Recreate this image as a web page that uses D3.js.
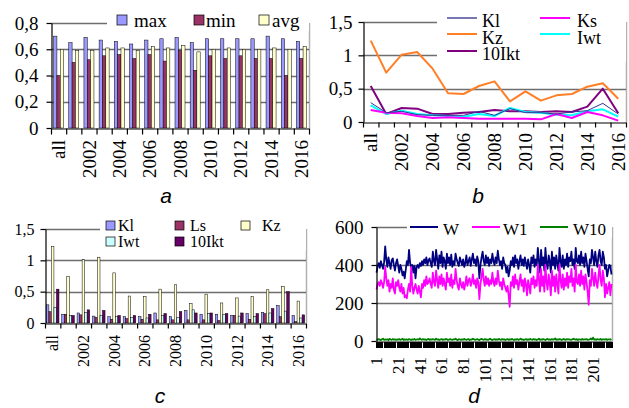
<!DOCTYPE html>
<html><head><meta charset="utf-8">
<script src="https://cdn.jsdelivr.net/npm/d3@7"></script>
<style>
body{margin:0;background:#fff}
svg{display:block}
</style>
</head><body>
<svg id="chart" width="629" height="408"></svg>
<script>
// ---------- DATA ----------
const years = ["all","2001","2002","2003","2004","2005","2006","2007","2008","2009","2010","2011","2012","2013","2014","2015","2016"];

// panel a
const aMax = [0.70,0.65,0.69,0.67,0.66,0.64,0.67,0.68,0.69,0.65,0.68,0.68,0.68,0.68,0.70,0.68,0.66];
const aMin = [0.40,0.50,0.52,0.55,0.56,0.53,0.56,0.51,0.59,0.44,0.55,0.53,0.55,0.53,0.53,0.40,0.53];
const aAvg = [0.60,0.59,0.59,0.61,0.61,0.59,0.62,0.61,0.63,0.58,0.60,0.61,0.60,0.60,0.61,0.60,0.62];
const aTicks = [0,0.2,0.4,0.6,0.8];

// panels b and c
const kl    = [0.29,0.14,0.16,0.11,0.10,0.10,0.10,0.16,0.10,0.20,0.14,0.14,0.12,0.15,0.17,0.28,0.12];
const ks    = [0.18,0.14,0.13,0.09,0.06,0.07,0.06,0.05,0.05,0.05,0.05,0.04,0.12,0.06,0.15,0.10,0.02];
const kz    = [1.22,0.74,1.01,1.05,0.80,0.43,0.42,0.54,0.61,0.31,0.46,0.32,0.40,0.42,0.53,0.58,0.35];
const iwt   = [0.25,0.12,0.17,0.12,0.10,0.09,0.08,0.12,0.09,0.21,0.15,0.14,0.11,0.10,0.16,0.19,0.08];
const ikt10 = [0.54,0.12,0.21,0.20,0.12,0.12,0.14,0.15,0.18,0.16,0.16,0.15,0.16,0.15,0.23,0.50,0.13];
const bTicks = [0,0.5,1,1.5];

// panel d
const w = [
360,395,410,385,420,400,380,415,498,430,
390,440,410,380,425,435,400,370,410,430,
395,360,400,380,345,365,330,375,420,400,
480,410,390,400,360,395,330,390,400,385,
410,395,420,400,430,410,440,400,425,435,
410,390,470,420,400,480,430,380,450,410,
470,390,440,420,380,460,410,440,400,455,
390,420,400,460,430,410,395,440,420,400,
430,390,410,450,400,420,440,395,430,460,
410,430,395,445,420,330,400,440,470,420,
400,450,410,440,395,430,410,460,420,400,
440,410,475,430,400,420,380,440,410,400,
360,390,340,370,420,400,440,390,450,410,
430,380,420,450,400,430,395,440,410,380,
430,400,360,440,410,450,390,430,400,490,
420,360,480,400,440,370,490,410,380,450,
420,360,470,400,440,380,450,410,370,490,
420,390,450,380,430,400,460,390,440,420,
470,400,430,380,490,420,410,450,400,470,
410,440,390,460,420,380,340,430,410,480,
440,400,470,420,390,450,480,420,400,470,
440,380,400,340,370,400,395,350];
const w1 = [
270,300,310,290,320,305,280,310,390,330,
290,320,260,300,280,330,270,250,310,290,
320,280,260,300,250,280,230,240,225,270,
300,260,390,290,250,280,300,270,250,290,
260,230,300,280,320,290,340,300,310,330,
300,280,360,310,290,370,320,280,340,300,
350,290,330,300,270,360,310,330,290,350,
280,320,300,380,320,290,270,330,300,280,
310,270,300,340,290,320,330,290,310,350,
300,320,280,330,310,220,300,340,380,320,
290,340,300,330,290,320,300,360,310,290,
330,300,370,320,290,310,270,330,300,280,
260,290,240,180,310,290,340,280,350,300,
320,270,310,350,290,320,260,330,300,240,
320,290,250,330,300,340,280,320,290,400,
320,260,380,290,340,260,400,310,270,350,
310,240,370,290,340,260,350,300,250,400,
320,280,350,270,330,290,360,280,340,310,
380,290,330,260,400,310,300,350,290,370,
300,340,270,350,310,260,190,320,290,380,
330,290,360,310,280,340,400,320,290,370,
330,230,300,250,280,310,240,300];
const w10 = [
8,6,10,7,5,9,12,6,8,7, 9,5,11,8,6,10,7,9,6,8,
7,10,6,8,12,5,9,7,8,6, 10,8,5,9,7,11,6,8,9,7,
14,8,6,10,7,9,5,8,11,6, 9,7,10,8,6,12,7,9,5,8,
10,6,8,7,11,9,5,8,10,7, 6,9,8,12,7,5,10,8,6,9,
7,11,8,6,9,10,5,8,7,12, 9,6,8,10,7,5,9,11,8,6,
10,7,8,6,9,12,7,5,8,10, 6,9,7,11,8,6,10,7,9,5,
8,10,6,9,7,11,8,5,9,7, 10,6,8,12,7,9,5,8,10,6,
9,7,11,8,6,10,7,9,5,8, 12,6,9,7,10,8,5,9,11,7,
8,6,10,7,9,14,6,8,7,10, 9,5,8,11,7,6,10,8,9,7,
6,9,12,8,7,10,5,9,8,6, 11,7,9,8,10,6,7,9,13,8,
18,7,9,6,10,8,7,11,6,9, 8,7,10,6,9,8,7,10];
const dTicks = [0,200,400,600];
const days = d3.range(1, w.length + 1).map(String);

// ---------- DRAWING ----------
const SERIF = '"Liberation Serif","Times New Roman",serif';
const SANS = '"Liberation Sans",Arial,sans-serif';
const svg = d3.select("#chart");
const fmt = v => String(v).replace(".", ",");

function makePanel(p) {
  const g = svg.append("g");
  const x = d3.scaleBand().domain(d3.range(p.n)).range([p.x0, p.x1]);
  const y = d3.scaleLinear().domain([0, p.ymax]).range([p.yb, p.yt]);
  g.append("line").attr("x1", p.x1 + 0.5).attr("x2", p.x1 + 0.5)
    .attr("y1", p.yt).attr("y2", p.yb).attr("stroke", "#b0b0b0").attr("stroke-width", 1.5);
  g.selectAll("line.grid").data(p.ticks.filter(t => t > 0)).join("line")
    .attr("class", "grid")
    .attr("x1", p.x0).attr("x2", p.x1)
    .attr("y1", d => Math.round(y(d)) + 0.5).attr("y2", d => Math.round(y(d)) + 0.5)
    .attr("stroke", "#6e6e6e").attr("stroke-width", 1.4);
  return { g, x, y, p };
}

function drawAxes(P) {
  const { g, x, y, p } = P;
  const ya = g.append("g").attr("transform", `translate(${p.x0 + 0.5},0)`)
    .call(d3.axisLeft(y).tickValues(p.ticks).tickFormat(fmt).tickSize(5).tickPadding(p.yPad).tickSizeOuter(0));
  ya.attr("font-family", SERIF).attr("font-size", p.fs);
  ya.selectAll("text").attr("fill", "#000");
  ya.selectAll("line,path").attr("stroke", "#000").attr("stroke-width", 1.2);
  const xl = d3.scaleLinear().domain([0, p.n]).range([p.x0, p.x1]);
  const xa = g.append("g").attr("transform", `translate(0,${p.yb + 0.5})`)
    .call(d3.axisBottom(xl).tickValues(d3.range(p.n + 1)).tickFormat("").tickSize(p.xTick).tickSizeOuter(0));
  xa.selectAll("line,path").attr("stroke", "#000").attr("stroke-width", p.xTickW || 1.2);
  if (p.crisp) xa.selectAll("line").attr("shape-rendering", "crispEdges");
  g.selectAll("text.xlab").data(p.labelIdx).join("text")
    .attr("class", "xlab")
    .attr("transform", i => `translate(${x(i) + x.bandwidth() / 2},${p.yb + p.xOff}) rotate(-90)`)
    .attr("text-anchor", "end").attr("dy", "0.35em")
    .attr("font-family", SERIF).attr("font-size", p.xfs || p.fs).attr("fill", "#000")
    .text(i => p.labels[i]);
}

function barSeries(P, series, colors, frac) {
  const { g, x, y } = P;
  const gw = x.bandwidth() * frac;
  const bw = gw / series.length;
  const off = (x.bandwidth() - gw) / 2;
  series.forEach((s, k) => {
    g.selectAll(null).data(s).join("rect")
      .attr("x", (d, i) => x(i) + off + k * bw)
      .attr("y", d => y(d))
      .attr("width", bw)
      .attr("height", d => y(0) - y(d))
      .attr("fill", colors[k]).attr("stroke", "#000").attr("stroke-width", 0.5);
  });
}

function lineSeries(P, data, color, width) {
  const { g, x, y } = P;
  const line = d3.line().x((d, i) => x(i) + x.bandwidth() / 2).y(d => y(d));
  g.append("path").datum(data).attr("d", line).attr("fill", "none")
    .attr("stroke", color).attr("stroke-width", width).attr("stroke-linejoin", "round");
}

function legendBox(g, x, y, wd, h) {
  g.append("rect").attr("x", x).attr("y", y).attr("width", wd).attr("height", h).attr("fill", "#fff");
}
function legendSwatch(g, x, y, s, color, label, tx, ty, fs) {
  g.append("rect").attr("x", x).attr("y", y).attr("width", s).attr("height", s)
    .attr("fill", color).attr("stroke", "#000").attr("stroke-width", 0.7);
  g.append("text").attr("x", tx).attr("y", ty).attr("font-family", SERIF).attr("font-size", fs).attr("fill", "#000").text(label);
}
function legendLine(g, x1, x2, y, color, width, label, tx, ty, fs) {
  g.append("line").attr("x1", x1).attr("x2", x2).attr("y1", y).attr("y2", y).attr("stroke", color).attr("stroke-width", width);
  g.append("text").attr("x", tx).attr("y", ty).attr("font-family", SERIF).attr("font-size", fs).attr("fill", "#000").text(label);
}
function subtitle(x, y, t) {
  svg.append("text").attr("x", x).attr("y", y).attr("text-anchor", "middle")
    .attr("font-family", SANS).attr("font-style", "italic").attr("font-size", 21).attr("fill", "#000").text(t);
}

const evenIdx = d3.range(0, 17, 2);

// ----- panel a -----
const A = makePanel({ n: 17, x0: 51, x1: 309, yb: 128, yt: 23, ymax: 0.8, ticks: aTicks,
  fs: 19, yPad: 8, xTick: 6, xOff: 12, labels: years, labelIdx: evenIdx });
barSeries(A, [aMax, aMin, aAvg], ["#9999ff", "#993366", "#ffffcc"], 0.66);
legendBox(A.g, 107, 0, 202, 31);
legendSwatch(A.g, 117, 15, 10, "#9999ff", "max", 134, 27, 19);
legendSwatch(A.g, 194, 15, 10, "#993366", "min", 206, 27, 19);
legendSwatch(A.g, 259, 15, 10, "#ffffcc", "avg", 272, 27, 19);
drawAxes(A);
subtitle(166, 203, "a");

// ----- panel b -----
const B = makePanel({ n: 17, x0: 363, x1: 626, yb: 122, yt: 22, ymax: 1.5, ticks: bTicks,
  fs: 19, yPad: 6, xTick: 5, xOff: 11, labels: years, labelIdx: evenIdx });
lineSeries(B, kz, "#ff7f27", 2);
lineSeries(B, ikt10, "#800080", 2);
lineSeries(B, iwt, "#00ffff", 2);
lineSeries(B, ks, "#ff00ff", 2);
lineSeries(B, kl, "#333399", 1);
legendBox(B.g, 437, 4, 189, 58);
legendLine(B.g, 447, 477, 18, "#4a4a9a", 1.5, "Kl", 482, 27, 18);
legendLine(B.g, 540, 570, 18, "#ff00ff", 2, "Ks", 577, 27, 18);
legendLine(B.g, 447, 477, 34, "#ff7f27", 2, "Kz", 482, 44, 18);
legendLine(B.g, 540, 570, 34, "#00ffff", 2, "Iwt", 577, 44, 18);
legendLine(B.g, 447, 477, 51, "#800080", 2, "10Ikt", 482, 60, 18);
drawAxes(B);
subtitle(478, 203, "b");

// ----- panel c -----
const C = makePanel({ n: 17, x0: 45, x1: 306, yb: 323, yt: 229, ymax: 1.5, ticks: bTicks,
  fs: 16, yPad: 6, xTick: 5, xOff: 12, labels: years, labelIdx: evenIdx });
barSeries(C, [kl, ks, kz, iwt, ikt10], ["#9999ff", "#993366", "#ffffcc", "#ccffff", "#660066"], 0.82);
legendBox(C.g, 100, 214, 206, 36);
legendSwatch(C.g, 106, 221, 9, "#9999ff", "Kl", 118, 231, 16);
legendSwatch(C.g, 175, 221, 9, "#993366", "Ls", 190, 231, 16);
legendSwatch(C.g, 241, 221, 9, "#ffffcc", "Kz", 262, 231, 16);
legendSwatch(C.g, 106, 237, 9, "#ccffff", "Iwt", 118, 247, 16);
legendSwatch(C.g, 175, 237, 9, "#660066", "10Ikt", 190, 247, 16);
drawAxes(C);
subtitle(160, 403, "c");

// ----- panel d -----
const dLabelIdx = d3.range(0, w.length, 20);
const D = makePanel({ n: w.length, x0: 376, x1: 612, yb: 341, yt: 227, ymax: 600, ticks: dTicks,
  fs: 19, xfs: 17, yPad: 8, xTick: 6, xTickW: 1, crisp: true, xOff: 16, labels: days, labelIdx: dLabelIdx });
lineSeries(D, w, "#000080", 1.8);
lineSeries(D, w1, "#ff00ff", 1.8);
lineSeries(D, w10, "#008000", 1.8);
legendBox(D.g, 407, 214, 205, 24);
legendLine(D.g, 410, 438, 227, "#000080", 2, "W", 443, 235, 17);
legendLine(D.g, 472, 500, 227, "#ff00ff", 2, "W1", 503, 235, 17);
legendLine(D.g, 540, 568, 227, "#008000", 2, "W10", 573, 235, 17);
drawAxes(D);
subtitle(474, 403, "d");
</script>
</body></html>
